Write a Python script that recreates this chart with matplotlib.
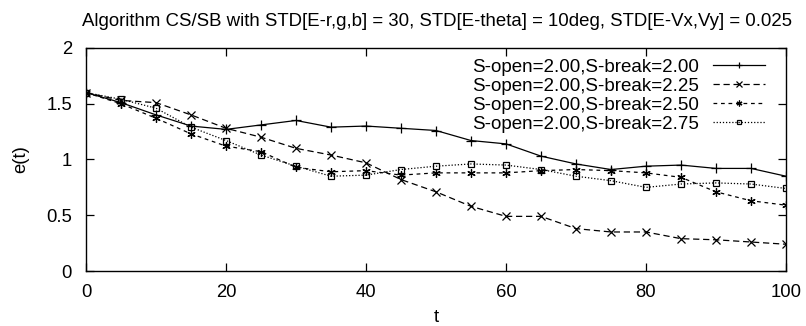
import matplotlib
matplotlib.use("Agg")
import matplotlib.pyplot as plt

plt.rcParams['font.family'] = ['Liberation Sans', 'DejaVu Sans']

t = [0, 5, 10, 15, 20, 25, 30, 35, 40, 45, 50, 55, 60, 65, 70, 75, 80, 85, 90, 95, 100]

e_break_200 = [1.60, 1.51, 1.40, 1.30, 1.27, 1.31, 1.35, 1.29, 1.30, 1.28, 1.26, 1.17, 1.14,
               1.03, 0.96, 0.91, 0.94, 0.95, 0.92, 0.92, 0.85]
e_break_225 = [1.60, 1.53, 1.51, 1.40, 1.28, 1.20, 1.10, 1.04, 0.97, 0.82, 0.71, 0.58, 0.49,
               0.49, 0.38, 0.35, 0.35, 0.29, 0.28, 0.26, 0.24]
e_break_250 = [1.60, 1.50, 1.37, 1.23, 1.12, 1.07, 0.93, 0.89, 0.90, 0.86, 0.88, 0.88, 0.88,
               0.90, 0.91, 0.90, 0.88, 0.84, 0.71, 0.63, 0.59]
e_break_275 = [1.60, 1.54, 1.46, 1.29, 1.17, 1.04, 0.94, 0.85, 0.86, 0.91, 0.94, 0.96, 0.95,
               0.91, 0.85, 0.81, 0.75, 0.78, 0.79, 0.78, 0.74]

labels = ["S-open=2.00,S-break=2.00",
          "S-open=2.00,S-break=2.25",
          "S-open=2.00,S-break=2.50",
          "S-open=2.00,S-break=2.75"]

title = "Algorithm CS/SB with STD[E-r,g,b] = 30, STD[E-theta] = 10deg, STD[E-Vx,Vy] = 0.025"

fig = plt.figure(figsize=(8.06, 3.26), dpi=100)
ax = fig.add_axes([0.1067, 0.1687, 0.8685, 0.6841])

lw = 0.9
ax.plot(t, e_break_200, color='black', lw=lw, ls='-', marker='+', ms=6.5, mew=0.9,
        label=labels[0])
ax.plot(t, e_break_225, color='black', lw=lw, ls=(0, (5, 3)), marker='x', ms=5.5, mew=0.9,
        label=labels[1])
ax.plot(t, e_break_250, color='black', lw=lw, ls=(0, (3, 3)), marker=(6, 2, 0), ms=6, mew=0.9,
        label=labels[2])
ax.plot(t, e_break_275, color='black', lw=lw, ls=(0, (1, 1.5)), marker='s', ms=5, mew=0.9,
        mfc='none', label=labels[3])

ax.set_xlim(0, 100)
ax.set_ylim(0, 2)
ax.set_xticks([0, 20, 40, 60, 80, 100])
ax.set_yticks([0, 0.5, 1, 1.5, 2])
ax.set_yticklabels(['0', '0.5', '1', '1.5', '2'])
ax.tick_params(direction='in', top=True, right=True, length=6, width=0.9,
               labelsize=13.3)
ax.tick_params(axis='x', pad=9.5)
ax.tick_params(axis='y', pad=10)
for s in ax.spines.values():
    s.set_linewidth(1.0)

ax.set_xlabel('t', fontsize=13.3, labelpad=5.5)
ax.set_ylabel('e(t)', fontsize=13.3, labelpad=12)
fig.text(437 / 806, 1 - 21 / 326, title, fontsize=13.4, ha='center', va='center')

leg = ax.legend(loc='upper right', frameon=False, markerfirst=False, fontsize=13.5,
                handlelength=2.8, labelspacing=0.1, borderaxespad=0, borderpad=0,
                handletextpad=0.7, markerscale=0.7,
                bbox_to_anchor=(0.970, 0.952))

fig.savefig('out.png', dpi=100)
